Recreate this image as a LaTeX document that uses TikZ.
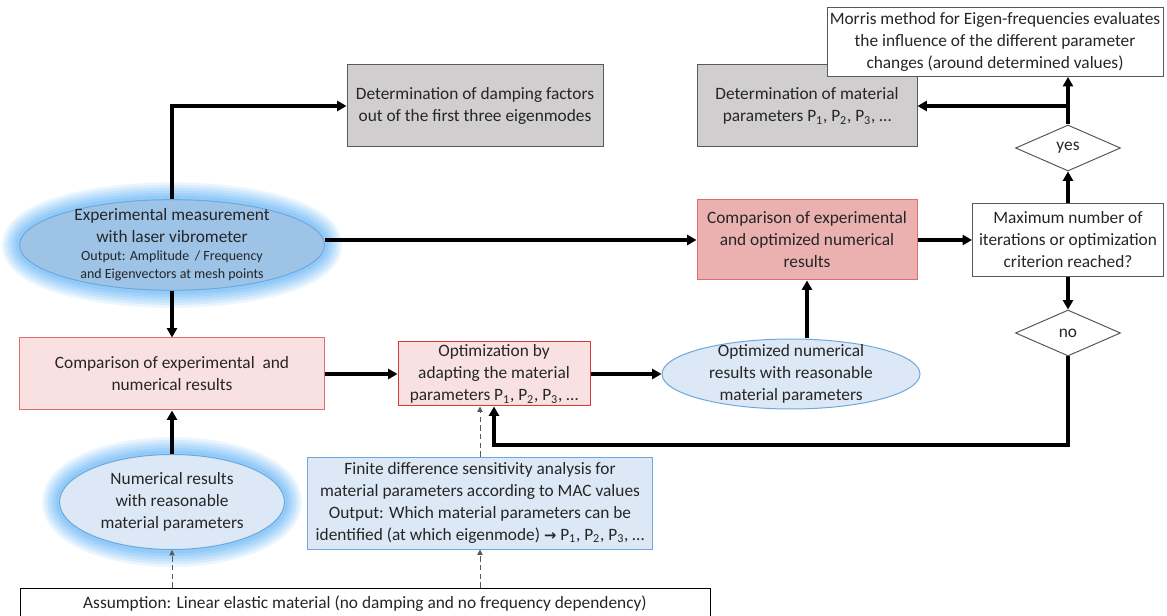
\documentclass[tikz,border=0pt]{standalone}
\usepackage{fontspec}
\setmainfont{Carlito}
\newfontfamily\symfont{DejaVu Sans}
\usepackage{xcolor}
\usetikzlibrary{shapes.geometric, arrows.meta, positioning, calc}

\definecolor{txt}{HTML}{262626}
\definecolor{grayfill}{HTML}{D0CECE}
\definecolor{graydraw}{HTML}{595959}
\definecolor{pinkfill}{HTML}{F9E1E2}
\definecolor{pinkdraw}{HTML}{E06C6C}
\definecolor{rosefill}{HTML}{EBB1B1}
\definecolor{redline}{HTML}{D93838}
\definecolor{bluefill}{HTML}{DCE8F5}
\definecolor{bluedraw}{HTML}{6FA8DC}
\definecolor{midblue}{HTML}{9DC3E6}
\definecolor{glowc}{HTML}{5AAEF5}
\newcommand{\smalltxt}{\fontsize{10.5}{12.75}\selectfont}

\begin{document}
\begin{tikzpicture}[x=0.75pt, y=-0.75pt,
    every node/.style={text=txt, font=\fontsize{13}{16.5}\selectfont},
    box/.style={draw, line width=0.75pt, align=center, inner sep=2pt},
    greybox/.style={box, fill=grayfill, draw=graydraw},
    plain/.style={box, fill=white, draw=graydraw},
    pinkbox/.style={box, fill=pinkfill, draw=pinkdraw},
    bluebox/.style={box, fill=bluefill, draw=bluedraw},
    oval/.style={ellipse, draw=bluedraw, line width=0.75pt, align=center, inner xsep=0pt, inner ysep=-9pt},
    glow/.style={preaction={draw=glowc, line width=26pt, opacity=.12},
                 preaction={draw=glowc, line width=22pt, opacity=.14},
                 preaction={draw=glowc, line width=18pt, opacity=.15},
                 preaction={draw=glowc, line width=14pt, opacity=.16},
                 preaction={draw=glowc, line width=10pt, opacity=.18},
                 preaction={draw=glowc, line width=6pt, opacity=.22}},
    choice/.style={diamond, draw=graydraw, fill=white, line width=0.75pt, inner sep=0pt, minimum width=78.75pt, minimum height=34.5pt},
    arr/.style={-{Triangle[length=7pt, width=7.5pt]}, line width=2.4pt},
    darr/.style={-{Triangle[length=4pt, width=4pt]}, line width=0.7pt, draw=graydraw, dash pattern=on 4pt off 2.5pt},
]
\useasboundingbox (0,0) rectangle (1167,616);

% Top row
\node[greybox, minimum width=192pt, minimum height=61.5pt] (damp) at (475,106) {Determination of damping factors\\out of the first three eigenmodes};
\node[greybox, minimum width=165pt, minimum height=61.5pt] (matdet) at (807,106) {Determination of material\\parameters P\textsubscript{1}, P\textsubscript{2}, P\textsubscript{3}, \dots};
\node[plain, minimum width=252pt, minimum height=51.75pt] (morris) at (995,42) {Morris method for Eigen-frequencies evaluates\\the influence of the different parameter\\changes (around determined values)};
\node[choice] (yes) at (1068,148) {yes};

% Middle row
\node[oval, glow, fill=midblue, inner ysep=-12pt, minimum width=228.75pt, minimum height=68pt] (exp) at (172,245) {Experimental measurement\\with laser vibrometer\\[-3pt]{\smalltxt Output: Amplitude \,/ Frequency}\\[-3pt]{\smalltxt and Eigenvectors at mesh points}};
\node[box, fill=rosefill, draw=pinkdraw, minimum width=165pt, minimum height=60pt] (compopt) at (807,240) {Comparison of experimental\\and optimized numerical\\results};
\node[plain, minimum width=143.25pt, minimum height=54.75pt] (maxit) at (1068,240) {Maximum number of\\iterations or optimization\\criterion reached?};
\node[choice] (no) at (1068,333) {no};

% Optimization row
\node[pinkbox, minimum width=228.75pt, minimum height=54pt] (comp) at (172,374) {Comparison of experimental\ \ and\\numerical results};
\node[box, fill=pinkfill, draw=redline, minimum width=144pt, minimum height=48pt, inner sep=1pt] (opt) at (494,374) {Optimization by\\adapting the material\\parameters P\textsubscript{1}, P\textsubscript{2}, P\textsubscript{3}, \dots};
\node[oval, fill=bluefill, minimum width=193.5pt, minimum height=52.5pt] (optres) at (791,374) {Optimized numerical\\results with reasonable\\material parameters};

% Bottom row
\node[oval, glow, fill=bluefill, minimum width=168.75pt, minimum height=71.25pt] (numres) at (172,502) {Numerical results\\with reasonable\\material parameters};
\node[bluebox, minimum width=258.75pt, minimum height=69pt] (fd) at (480,503) {Finite difference sensitivity analysis for\\material parameters according to MAC values\\Output: Which material parameters can be\\identified (at which eigenmode) {\symfont\fontsize{11}{16.5}\selectfont\textbf{→}} P\textsubscript{1}, P\textsubscript{2}, P\textsubscript{3}, \dots};
\node[plain, draw=black, minimum width=517.5pt, minimum height=24pt, inner sep=1pt] (assume) at (365,604) {Assumption: Linear elastic material (no damping and no frequency dependency)};

% Main flow
\draw[arr] (exp.north) |- (damp.west);
\draw[arr] (exp.east |- compopt.west) -- (compopt.west);
\draw[arr] (exp.south) -- (comp.north);
\draw[arr] (numres.north) -- (comp.south);
\draw[arr] (comp.east) -- (opt.west);
\draw[arr] (opt.east) -- (optres.west);
\draw[arr] (compopt.south |- optres.north) -- (compopt.south);
\draw[arr] (compopt.east) -- (maxit.west);

% Decision
\draw[arr] (maxit.north) -- (yes.south);
\draw[arr] (yes.north) -- (yes.north |- morris.south);
\coordinate (branch) at (yes.north |- matdet.east);
\draw[arr] (branch) -- (matdet.east);
\draw[arr] (maxit.south) -- (no.north);
\coordinate (loop) at (1068,445);
\draw[arr] (no.south) -- (loop) -| (opt.south);

% Dashed inputs
\draw[darr] (assume.north -| numres.south) -- (numres.south);
\draw[darr] (assume.north -| fd.south) -- (fd.south);
\draw[darr] (fd.north) -- (fd.north |- opt.south);

\end{tikzpicture}
\end{document}
